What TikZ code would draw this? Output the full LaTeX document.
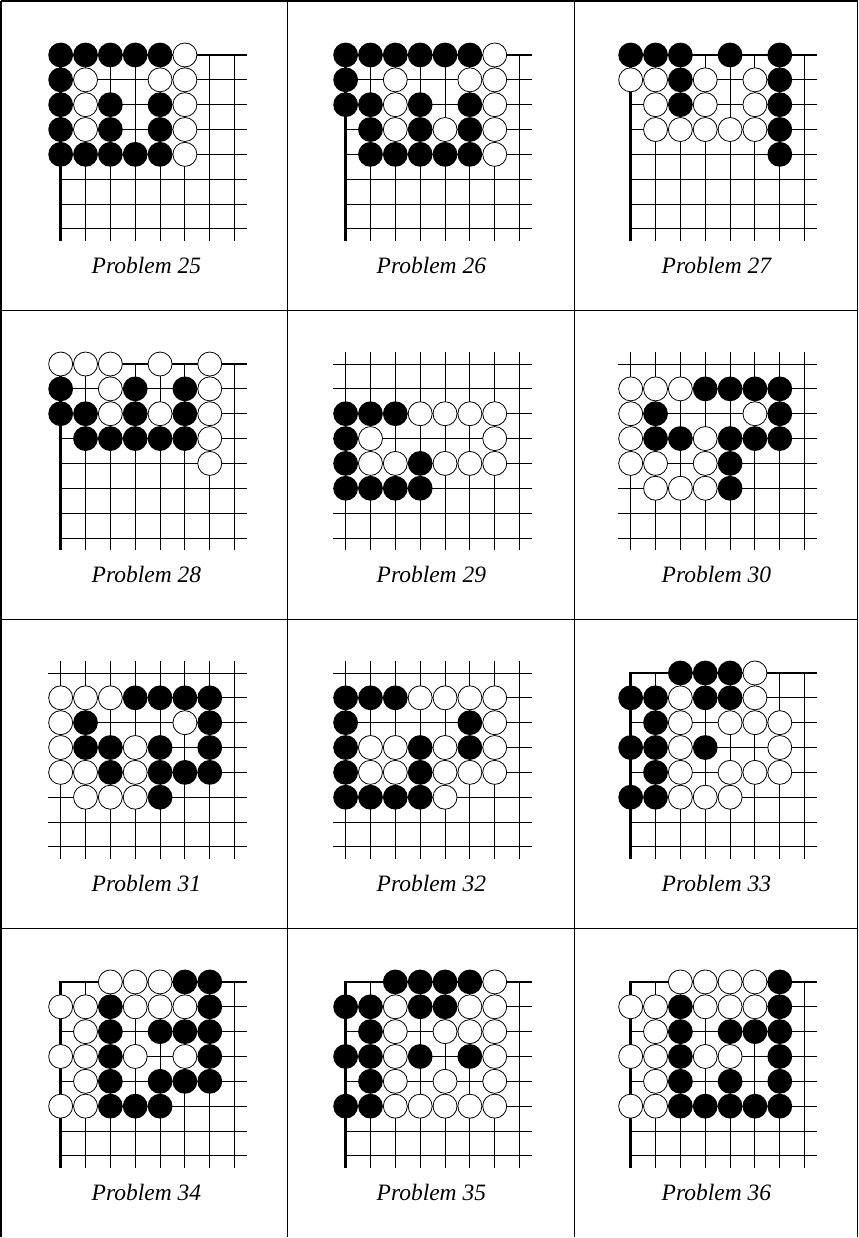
\documentclass[tikz,border=0pt]{standalone}
\usepackage{fontspec}
\setmainfont{Liberation Serif}
\tikzset{
  gridline/.style  = {line width=0.9pt},
  edgeline/.style  = {line width=2.6pt, line join=miter},
  frameline/.style = {line width=1.2pt},
  bstone/.style    = {circle, fill=black, inner sep=0pt, minimum size=24.8pt},
  wstone/.style    = {circle, draw=black, fill=white, line width=0.8pt, inner sep=0pt, minimum size=24pt},
  probtext/.style  = {anchor=base, font=\fontsize{23.5}{28}\selectfont\itshape},
  panel/.style     = {x=24.86pt, y=-24.86pt}
}
% board in the upper left corner
\newcommand{\cornergrid}{%
  \foreach \k in {0,...,7} {
    \draw[gridline] (\k,0) -- (\k,7.5);
    \draw[gridline] (0,\k) -- (7.5,\k);
  }
  \draw[edgeline] (7.5,0) -- (0,0) -- (0,7.5);
}
% board cut out of the middle
\newcommand{\opengrid}{%
  \foreach \k in {0,...,7} {
    \draw[gridline] (\k,-0.5) -- (\k,7.5);
    \draw[gridline] (-0.5,\k) -- (7.5,\k);
  }
}
% #1 problem, #2 black stones, #3 white stones
\newcommand{\stones}[3]{%
  \foreach \i/\j in {#2} \node[bstone] (b#1-\i-\j) at (\i,\j) {};
  \foreach \i/\j in {#3} \node[wstone] (w#1-\i-\j) at (\i,\j) {};
}

\begin{document}
\begin{tikzpicture}[x=1pt, y=-1pt]
  \fill[white] (0,0) rectangle (859,1238);

  % table
  \draw[frameline] (1,1) -- (858,1);
  \foreach \yy in {311,620,929} \draw[frameline] (1,\yy) -- (858,\yy);
  \foreach \xx in {1,288,574.5,858} \draw[frameline] (\xx,1) -- (\xx,1238);

  % row 1
  \begin{scope}[xshift=60.7pt, yshift=-55pt, panel]
    \cornergrid
    \stones{25}{0/0,1/0,2/0,3/0,4/0, 0/1, 0/2,2/2,4/2, 0/3,2/3,4/3, 0/4,1/4,2/4,3/4,4/4}
               {5/0, 1/1,4/1,5/1, 1/2,5/2, 1/3,5/3, 5/4}
    \node[probtext] (t25) at (3.45,8.79) {Problem 25};
  \end{scope}
  \begin{scope}[xshift=345.8pt, yshift=-55pt, panel]
    \cornergrid
    \stones{26}{0/0,1/0,2/0,3/0,4/0,5/0, 0/1, 0/2,1/2,3/2,5/2, 1/3,3/3,5/3, 1/4,2/4,3/4,4/4,5/4}
               {6/0, 2/1,5/1,6/1, 2/2,6/2, 2/3,4/3,6/3, 6/4}
    \node[probtext] (t26) at (3.45,8.79) {Problem 26};
  \end{scope}
  \begin{scope}[xshift=631pt, yshift=-55pt, panel]
    \cornergrid
    \stones{27}{0/0,1/0,2/0,4/0,6/0, 2/1,6/1, 2/2,6/2, 6/3, 6/4}
               {0/1,1/1,3/1,5/1, 1/2,3/2,5/2, 1/3,2/3,3/3,4/3,5/3}
    \node[probtext] (t27) at (3.45,8.79) {Problem 27};
  \end{scope}

  % row 2
  \begin{scope}[xshift=60.7pt, yshift=-364.2pt, panel]
    \cornergrid
    \stones{28}{0/1,3/1,5/1, 0/2,1/2,3/2,5/2, 1/3,2/3,3/3,4/3,5/3}
               {0/0,1/0,2/0,4/0,6/0, 2/1,6/1, 2/2,4/2,6/2, 6/3, 6/4}
    \node[probtext] (t28) at (3.45,8.79) {Problem 28};
  \end{scope}
  \begin{scope}[xshift=345.8pt, yshift=-364.2pt, panel]
    \opengrid
    \stones{29}{0/2,1/2,2/2, 0/3, 0/4,3/4, 0/5,1/5,2/5,3/5}
               {3/2,4/2,5/2,6/2, 1/3,6/3, 1/4,2/4,4/4,5/4,6/4}
    \node[probtext] (t29) at (3.45,8.79) {Problem 29};
  \end{scope}
  \begin{scope}[xshift=631pt, yshift=-364.2pt, panel]
    \opengrid
    \stones{30}{3/1,4/1,5/1,6/1, 1/2,6/2, 1/3,2/3,4/3,5/3,6/3, 4/4, 4/5}
               {0/1,1/1,2/1, 0/2,5/2, 0/3,3/3, 0/4,1/4,3/4, 1/5,2/5,3/5}
    \node[probtext] (t30) at (3.45,8.79) {Problem 30};
  \end{scope}

  % row 3
  \begin{scope}[xshift=60.7pt, yshift=-673.3pt, panel]
    \opengrid
    \stones{31}{3/1,4/1,5/1,6/1, 1/2,6/2, 1/3,2/3,4/3,6/3, 2/4,4/4,5/4,6/4, 4/5}
               {0/1,1/1,2/1, 0/2,5/2, 0/3,3/3, 0/4,1/4,3/4, 1/5,2/5,3/5}
    \node[probtext] (t31) at (3.45,8.79) {Problem 31};
  \end{scope}
  \begin{scope}[xshift=345.8pt, yshift=-673.3pt, panel]
    \opengrid
    \stones{32}{0/1,1/1,2/1, 0/2,5/2, 0/3,3/3,5/3, 0/4,3/4, 0/5,1/5,2/5,3/5}
               {3/1,4/1,5/1,6/1, 6/2, 1/3,2/3,4/3,6/3, 1/4,2/4,4/4,5/4,6/4, 4/5}
    \node[probtext] (t32) at (3.45,8.79) {Problem 32};
  \end{scope}
  \begin{scope}[xshift=631pt, yshift=-673.3pt, panel]
    \cornergrid
    \stones{33}{2/0,3/0,4/0, 0/1,1/1,3/1,4/1, 1/2, 0/3,1/3,3/3, 1/4, 0/5,1/5}
               {5/0, 2/1,5/1, 2/2,4/2,5/2,6/2, 2/3,6/3, 2/4,4/4,5/4,6/4, 2/5,3/5,4/5}
    \node[probtext] (t33) at (3.45,8.79) {Problem 33};
  \end{scope}

  % row 4
  \begin{scope}[xshift=60.7pt, yshift=-982.4pt, panel]
    \cornergrid
    \stones{34}{5/0,6/0, 2/1,6/1, 2/2,4/2,5/2,6/2, 2/3,6/3, 2/4,4/4,5/4,6/4, 2/5,3/5,4/5}
               {2/0,3/0,4/0, 0/1,1/1,3/1,4/1,5/1, 1/2, 0/3,1/3,3/3,5/3, 1/4, 0/5,1/5}
    \node[probtext] (t34) at (3.45,8.79) {Problem 34};
  \end{scope}
  \begin{scope}[xshift=345.8pt, yshift=-982.4pt, panel]
    \cornergrid
    \stones{35}{2/0,3/0,4/0,5/0, 0/1,1/1,3/1,4/1, 1/2, 0/3,1/3,3/3,5/3, 1/4, 0/5,1/5}
               {6/0, 2/1,5/1,6/1, 2/2,4/2,5/2,6/2, 2/3,6/3, 2/4,4/4,6/4, 2/5,3/5,4/5,5/5,6/5}
    \node[probtext] (t35) at (3.45,8.79) {Problem 35};
  \end{scope}
  \begin{scope}[xshift=631pt, yshift=-982.4pt, panel]
    \cornergrid
    \stones{36}{6/0, 2/1,6/1, 2/2,4/2,5/2,6/2, 2/3,6/3, 2/4,4/4,6/4, 2/5,3/5,4/5,5/5,6/5}
               {2/0,3/0,4/0,5/0, 0/1,1/1,3/1,4/1,5/1, 1/2, 0/3,1/3,3/3,4/3, 1/4, 0/5,1/5}
    \node[probtext] (t36) at (3.45,8.79) {Problem 36};
  \end{scope}
\end{tikzpicture}
\end{document}
